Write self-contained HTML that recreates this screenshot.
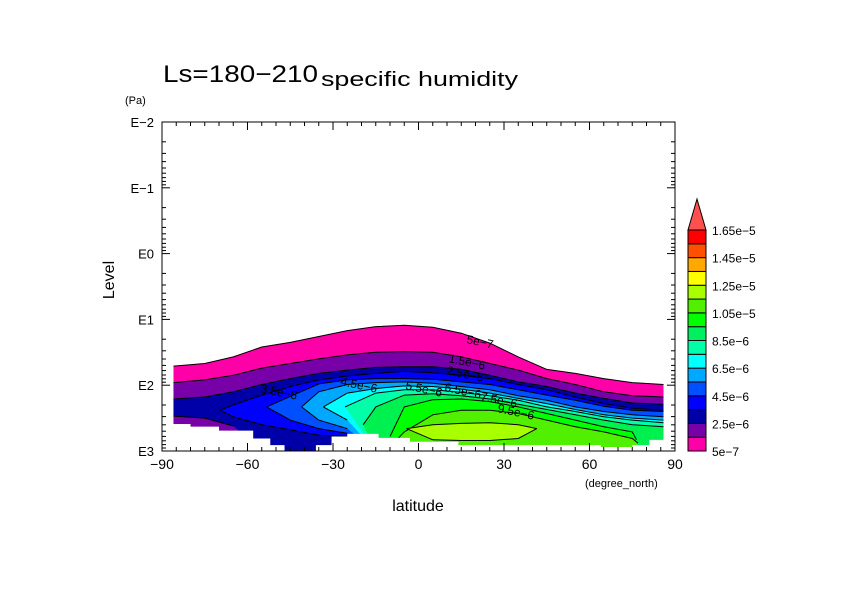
<!DOCTYPE html>
<html><head><meta charset="utf-8"><style>
body{margin:0;background:#fff;}
svg text{font-family:"Liberation Sans",sans-serif;fill:#000;}
</style></head><body>
<svg id="chart" width="842" height="595" viewBox="0 0 842 595" xmlns="http://www.w3.org/2000/svg">
<rect x="0" y="0" width="842" height="595" fill="#fff"/>
<g id="fills"></g>
<g id="mask"></g>
<g id="axes"></g>
<g id="cbar"></g>
<text x="163" y="82" font-size="24" textLength="155" lengthAdjust="spacingAndGlyphs">Ls=180−210</text>
<text x="321" y="86" font-size="20" textLength="197" lengthAdjust="spacingAndGlyphs">specific humidity</text>
<text x="125" y="104" font-size="11">(Pa)</text>
<text x="114" y="280" font-size="16" transform="rotate(-90 114 280)" text-anchor="middle">Level</text>
<text x="418" y="511" font-size="16" text-anchor="middle">latitude</text>
<text x="585" y="487" font-size="11">(degree_north)</text>
</svg>
<script>
const lats=[-86,-75,-65,-55,-45,-35,-25,-15,-5,5,15,25,35,45,55,65,75,86];
const levelNames=['5e-7','1.5e-6','2.5e-6','3.5e-6','4.5e-6','5.5e-6','6.5e-6','7.5e-6','8.5e-6','9.5e-6','1.05e-5','1.15e-5'];
const levelColors=['#ff00a8','#7800a8','#0000a8','#0000ff','#0050ff','#00a8ff','#00ffff','#00ffa8','#00f050','#00ff00','#50f000','#a8ff00'];
const N=null;
// top edges (log10 Pa) per latitude, per level
const top0=[1.71,1.67,1.57,1.42,1.35,1.26,1.17,1.11,1.09,1.12,1.21,1.36,1.57,1.76,1.82,1.90,1.96,1.99];
const top1=[1.96,1.92,1.85,1.74,1.67,1.60,1.54,1.50,1.49,1.50,1.57,1.67,1.77,1.90,1.99,2.10,2.16,2.18];
const top2=[2.21,2.18,2.10,1.99,1.90,1.82,1.77,1.73,1.72,1.72,1.76,1.85,1.95,2.02,2.12,2.20,2.27,2.29];
const top3=[N,N,2.30,2.15,2.02,1.92,1.86,1.82,1.79,1.81,1.85,1.90,1.99,2.07,2.18,2.28,2.35,2.38];
const top4=[N,N,N,N,2.17,1.98,1.92,1.90,1.90,1.91,1.95,1.99,2.07,2.15,2.23,2.32,2.38,2.40];
const top5=[N,N,N,N,N,2.10,1.99,1.96,1.95,1.97,2.02,2.07,2.16,2.23,2.33,2.40,2.45,2.48];
const top6=[N,N,N,N,N,N,2.12,2.05,2.01,2.02,2.06,2.12,2.20,2.28,2.37,2.45,2.50,2.53];
const top7=[N,N,N,N,N,N,N,2.12,2.07,2.07,2.11,2.16,2.23,2.33,2.40,2.48,2.53,2.57];
const top8=[N,N,N,N,N,N,N,2.33,2.15,2.13,2.16,2.21,2.29,2.37,2.45,2.53,2.60,2.63];
const top9=[N,N,N,N,N,N,N,N,2.33,2.22,2.21,2.25,2.33,2.43,2.53,2.63,2.71,N];
const top10=[N,N,N,N,N,N,N,N,2.71,2.45,2.38,2.38,2.43,2.53,2.63,2.71,2.81,N];
const top11=[N,N,N,N,N,N,N,N,N,2.60,2.58,2.57,2.60,N,N,N,N,N];
// bottom edges (null = reaches surface)
const bot0=[N,N,N,N,N,N,N,N,N,N,N,N,N,N,N,N,N,N];
const bot1=bot0;
const bot2=[2.47,2.50,2.62,N,N,N,N,N,N,N,N,N,N,N,N,N,N,N];
const bot3=[N,N,2.48,2.60,2.68,2.76,2.78,N,N,N,N,N,N,N,N,N,N,N];
const bot4=[N,N,N,N,2.53,2.66,2.73,N,N,N,N,N,N,N,N,N,N,N];
const bot5=[N,N,N,N,N,2.53,2.66,N,N,N,N,N,N,N,N,N,N,N];
const bot6=[N,N,N,N,N,N,2.53,N,N,N,N,N,N,N,N,N,N,N];
const bot7=bot0,bot8=bot0,bot9=bot0,bot10=bot0;
const bot11=[N,N,N,N,N,N,N,N,N,2.83,2.84,2.84,2.81,N,N,N,N,N];
// tips of closed tongues: [lat, log10 p] or null
const leftTips=[N,N,N,[-69.6,2.38],[-53.3,2.33],[-41,2.33],[-33.4,2.33],[-25.8,2.33],[-19.4,2.6],[-10,2.78],[-7,2.8],[-4.2,2.66]];
const rightTips=[N,N,N,N,N,N,N,N,N,[76.5,2.83],[77,2.88],[41.5,2.66]];
const tops=[top0,top1,top2,top3,top4,top5,top6,top7,top8,top9,top10,top11];
const bots=[bot0,bot1,bot2,bot3,bot4,bot5,bot6,bot7,bot8,bot9,bot10,bot11];
// surface (ground) steps
const groundLat=[-90,-80,-70,-58,-52,-47,-36,-30.5,-25,-14,-3,14,64,75,81,86,90];
const groundP=[2.59,2.63,2.69,2.81,2.91,3.0,2.91,2.78,2.74,2.80,2.86,2.91,2.94,2.91,2.83,2.0];
const xTicks=[-90,-60,-30,0,30,60,90];
const yTicks=['E-2','E-1','E0','E1','E2','E3'];
const cbLabels=['5e-7','2.5e-6','4.5e-6','6.5e-6','8.5e-6','1.05e-5','1.25e-5','1.45e-5','1.65e-5'];
const cbColors=['#ff00a8','#7800a8','#0000a8','#0000ff','#0050ff','#00a8ff','#00ffff','#00ffa8','#00f060','#00ff00','#50f000','#a8ff00','#ffff00','#ffa800','#ff5000','#ff0000'];
const contourLabels=[['5e-7',466,343],['1.5e-6',448,362],['2.5e-6',446,374],['3.5e-6',260,392],['4.5e-6',340,385],['5.5e-6',405,389],['6.5e-6',444,391],['7.5e-6',480,400],['9.5e-6',497,412]];

const X0=162,X1=675,Y0=122,Y1=451;
const xs=l=>X0+(l+90)/180*(X1-X0);
const ys=p=>Y0+(p+2)/5*(Y1-Y0);
const pt=(l,p)=>xs(l).toFixed(1)+','+ys(p).toFixed(1);
const NS='http://www.w3.org/2000/svg';
function mk(t,a,parent){const e=document.createElementNS(NS,t);for(const k in a)e.setAttribute(k,a[k]);parent.appendChild(e);return e;}
const fills=document.getElementById('fills');
tops.forEach((tp,i)=>{
  const idx=[];tp.forEach((v,j)=>{if(v!==null)idx.push(j);});
  if(!idx.length)return;
  let up=idx.map(j=>pt(lats[j],tp[j]));
  if(leftTips[i])up.unshift(pt(leftTips[i][0],leftTips[i][1]));
  if(rightTips[i])up.push(pt(rightTips[i][0],rightTips[i][1]));
  const dn=idx.slice().reverse().map(j=>{const b=bots[i][j]===null?3.0:bots[i][j];return pt(lats[j],b);});
  const p=mk('polygon',{points:up.concat(dn).join(' '),fill:levelColors[i],stroke:'none'},fills);
  
  
  const ln=mk('polyline',{points:up.join(' '),fill:'none',stroke:'#000','stroke-width':1},fills);
  
  
  const bi=idx.filter(j=>bots[i][j]!==null);
  if(bi.length){let bp=bi.map(j=>pt(lats[j],bots[i][j]));
    if(leftTips[i])bp.unshift(pt(leftTips[i][0],leftTips[i][1]));
    if(rightTips[i]&&i===11)bp.push(pt(rightTips[i][0],rightTips[i][1]));
    const bl=mk('polyline',{points:bp.join(' '),fill:'none',stroke:'#000','stroke-width':1},fills);
    
    }
});
contourLabels.forEach(c=>{const t=mk('text',{x:c[1],y:c[2],'font-size':12,transform:'rotate(12 '+c[1]+' '+c[2]+')'},fills);t.textContent=c[0].replace(/-/g,'−');

});
// ground mask
const mask=document.getElementById('mask');
let gp=[];for(let k=0;k<groundP.length;k++){gp.push(xs(groundLat[k])+','+ys(groundP[k]));gp.push(xs(groundLat[k+1])+','+ys(groundP[k]));}
gp.push(xs(90)+','+(Y1+2));gp.push(xs(-90)+','+(Y1+2));
const gm=mk('polygon',{points:gp.join(' '),fill:'#fff'},mask);


const lm=mk('rect',{x:X0,y:Y0,width:xs(-86)-X0,height:Y1-Y0,fill:'#fff'},mask);


const rm=mk('rect',{x:xs(86),y:Y0,width:X1-xs(86),height:Y1-Y0,fill:'#fff'},mask);


// axes
const ax=document.getElementById('axes');
const fr=mk('rect',{x:X0,y:Y0,width:X1-X0,height:Y1-Y0,fill:'none',stroke:'#000','stroke-width':1},ax);


for(let l=-90;l<=90;l+=5){const big=l%30===0,len=big?8:4;const x=xs(l);
  mk('line',{x1:x,y1:Y1,x2:x,y2:Y1-len,stroke:'#000'},ax);mk('line',{x1:x,y1:Y0,x2:x,y2:Y0+len,stroke:'#000'},ax);}
xTicks.forEach(l=>{const t=mk('text',{x:xs(l),y:469,'font-size':14,'text-anchor':'middle'},ax);t.textContent=l<0?'−'+(-l):String(l);

});
yTicks.forEach((s,i)=>{const e=-2+i;const y=ys(e);
  mk('line',{x1:X0,y1:y,x2:X0+8,y2:y,stroke:'#000'},ax);mk('line',{x1:X1,y1:y,x2:X1-8,y2:y,stroke:'#000'},ax);
  const t=mk('text',{x:X0-8,y:y+5,'font-size':13,'text-anchor':'end'},ax);t.textContent=s.replace('-','−');
  
  
  if(e<3)for(let m=2;m<10;m++){const yy=ys(e+Math.log10(m));mk('line',{x1:X0,y1:yy,x2:X0+4,y2:yy,stroke:'#000'},ax);mk('line',{x1:X1,y1:yy,x2:X1-4,y2:yy,stroke:'#000'},ax);}
});
// colorbar
const cb=document.getElementById('cbar');
const CX=688,CW=18,CB=451,CT=230,bh=(CB-CT)/cbColors.length;
cbColors.forEach((c,i)=>{const r=mk('rect',{x:CX,y:CB-(i+1)*bh,width:CW,height:bh,fill:c,stroke:'#000','stroke-width':1},cb);

});
const tri=mk('polygon',{points:CX+','+CT+' '+(CX+CW)+','+CT+' '+(CX+CW/2)+','+(CT-31),fill:'#ff5050',stroke:'#000'},cb);


cbLabels.forEach((s,i)=>{const t=mk('text',{x:712,y:CB-i*2*bh+5,'font-size':12},cb);t.textContent=s.replace(/-/g,'−');

});
</script>
</body></html>
